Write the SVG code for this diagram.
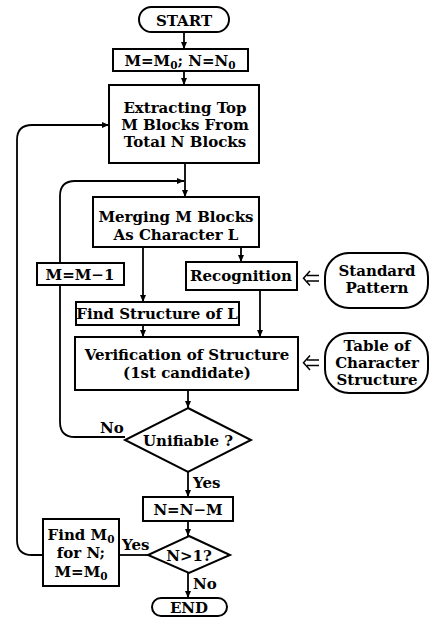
<svg xmlns="http://www.w3.org/2000/svg" width="430" height="618" viewBox="0 0 430 618">
<defs>
<marker id="ah" markerWidth="8" markerHeight="8" refX="7" refY="4" orient="auto" markerUnits="userSpaceOnUse">
<path d="M0,1 L7,4 L0,7 Z" fill="#000"/>
</marker>
<style>
.b{fill:#fff;stroke:#000;stroke-width:2}
.l{fill:none;stroke:#000;stroke-width:1.8}
text{font-family:"DejaVu Serif","Liberation Serif",serif;font-weight:bold;font-size:15px;fill:#000;text-anchor:middle}
.s{font-size:10.5px}
.st{text-anchor:start}
</style>
</defs>
<rect width="430" height="618" fill="#fff"/>
<g id="connectors">
<line class="l" x1="184" y1="32" x2="184" y2="49" marker-end="url(#ah)"/>
<line class="l" x1="184" y1="71" x2="184" y2="85" marker-end="url(#ah)"/>
<line class="l" x1="185" y1="163" x2="185" y2="197" marker-end="url(#ah)"/>
<path class="l" d="M125,437 L75,437 Q60,437 60,422 L60,196 Q60,181 75,181 L184,181" marker-end="url(#ah)"/>
<line class="l" x1="241" y1="247" x2="241" y2="262" marker-end="url(#ah)"/>
<line class="l" x1="143" y1="247" x2="143" y2="302" marker-end="url(#ah)"/>
<line class="l" x1="260" y1="290" x2="260" y2="337" marker-end="url(#ah)"/>
<line class="l" x1="143" y1="325" x2="143" y2="337" marker-end="url(#ah)"/>
<line class="l" x1="188" y1="390" x2="188" y2="408" marker-end="url(#ah)"/>
<line class="l" x1="188" y1="472" x2="188" y2="497" marker-end="url(#ah)"/>
<line class="l" x1="188" y1="521" x2="188" y2="536" marker-end="url(#ah)"/>
<line class="l" x1="188" y1="573" x2="188" y2="598" marker-end="url(#ah)"/>
<line class="l" x1="148" y1="555" x2="119" y2="555"/>
<path class="l" d="M43,555 L32,555 Q17,555 17,540 L17,140 Q17,125 32,125 L109,125" marker-end="url(#ah)"/>
<path fill="none" stroke="#000" stroke-width="1.5" d="M319,275.5 L307,275.5 M319,281 L307,281 M310,271 L303.5,278.2 L310,285.5"/>
<path fill="none" stroke="#000" stroke-width="1.5" d="M319,360 L307,360 M319,365.5 L307,365.5 M310,355.5 L303.5,362.7 L310,370"/>
<text class="st" x="100" y="433">No</text>
<text class="st" x="193" y="488">Yes</text>
<text class="st" x="122" y="550">Yes</text>
<text class="st" x="193" y="589">No</text>
</g>
<g id="start">
<rect class="b" x="139" y="7" width="90" height="25" rx="12.5"/>
<text x="184" y="26">START</text>
</g>
<g id="init">
<rect class="b" x="113" y="49" width="135" height="22"/>
<text x="180" y="66">M=M<tspan class="s" dy="3">0</tspan><tspan dy="-3">; N=N</tspan><tspan class="s" dy="3">0</tspan></text>
</g>
<g id="extract">
<rect class="b" x="109" y="85" width="150" height="78"/>
<text x="185" y="113">Extracting Top</text>
<text x="185" y="130">M Blocks From</text>
<text x="185" y="147">Total N Blocks</text>
</g>
<g id="merge">
<rect class="b" x="93" y="197" width="166" height="50"/>
<text x="176" y="222">Merging M Blocks</text>
<text x="176" y="240">As Character L</text>
</g>
<g id="mdec">
<rect class="b" x="37" y="263" width="87" height="22"/>
<text x="80" y="280">M=M−1</text>
</g>
<g id="recog">
<rect class="b" x="186" y="262" width="111" height="28"/>
<text x="241" y="281">Recognition</text>
</g>
<g id="stdpat">
<rect class="b" x="325" y="253" width="103" height="55" rx="24"/>
<text x="377" y="276">Standard</text>
<text x="377" y="293">Pattern</text>
</g>
<g id="findstruct">
<rect class="b" x="76" y="302" width="163" height="23"/>
<text x="157" y="319">Find Structure of L</text>
</g>
<g id="verify">
<rect class="b" x="75" y="337" width="223" height="53"/>
<text x="187" y="360">Verification of Structure</text>
<text x="187" y="378">(1st candidate)</text>
</g>
<g id="table">
<rect class="b" x="325" y="333" width="103" height="60" rx="24"/>
<text x="377" y="351">Table of</text>
<text x="377" y="368">Character</text>
<text x="377" y="385">Structure</text>
</g>
<g id="unify">
<polygon class="b" points="188,408 251,440 188,472 125,440"/>
<text x="188" y="446">Unifiable ?</text>
</g>
<g id="nupd">
<rect class="b" x="143" y="497" width="90" height="24"/>
<text x="188" y="515">N=N−M</text>
</g>
<g id="ncheck">
<polygon class="b" points="189,536 230,555 189,573 148,555"/>
<text x="189" y="561">N&gt;1?</text>
</g>
<g id="findm0">
<rect class="b" x="43" y="519" width="76" height="67"/>
<text x="81" y="540">Find M<tspan class="s" dy="3">0</tspan></text>
<text x="81" y="558">for N;</text>
<text x="81" y="577">M=M<tspan class="s" dy="3">0</tspan></text>
</g>
<g id="end">
<rect class="b" x="152" y="598" width="75" height="18" rx="9"/>
<text x="189" y="613">END</text>
</g>
</svg>
